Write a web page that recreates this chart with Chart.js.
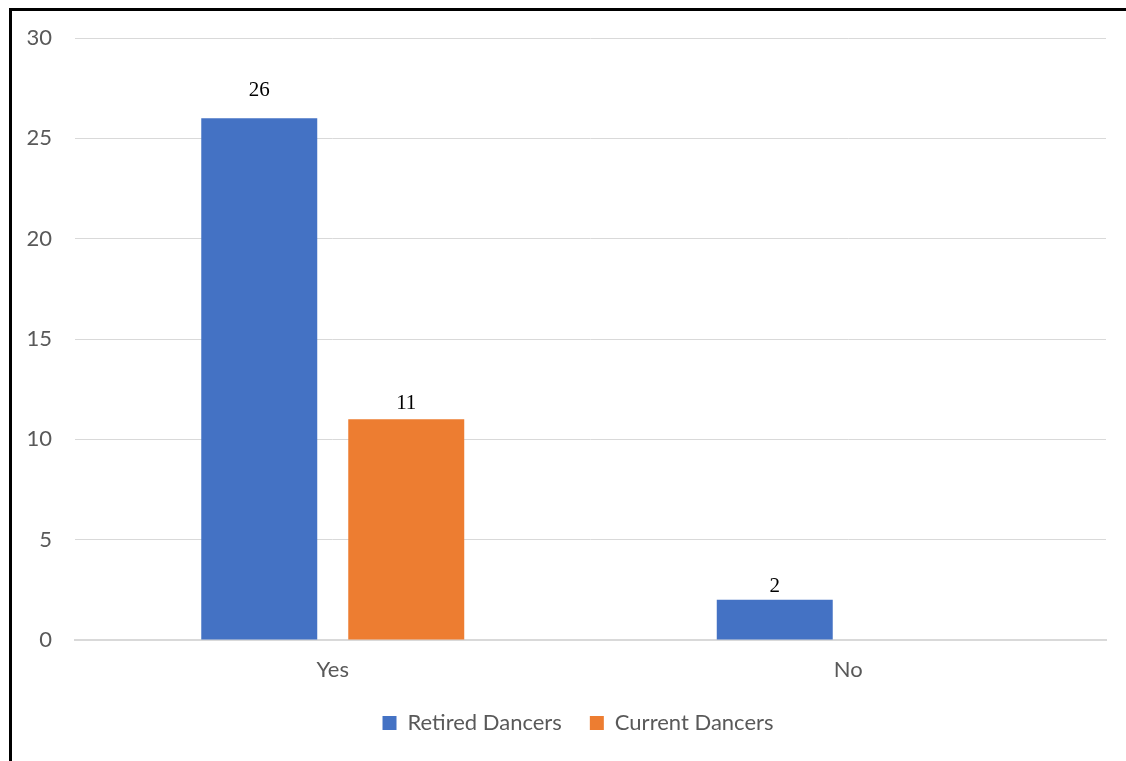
<!DOCTYPE html>
<html>
<head>
<meta charset="utf-8">
<script src="https://cdn.jsdelivr.net/npm/chart.js@4.4.1/dist/chart.umd.min.js"></script>
<style>
  html, body { margin: 0; padding: 0; background: #fff; }
  #wrap { position: relative; width: 1126px; height: 761px; overflow: hidden; }
  #frame {
    position: absolute; left: 9px; top: 8px; width: 1200px; height: 800px;
    border-left: 3px solid #000; border-top: 3px solid #000; box-sizing: border-box;
    pointer-events: none;
  }
  canvas { position: absolute; left: 0; top: 0; }
</style>
</head>
<body>
<div id="wrap">
  <canvas id="chart" width="1126" height="761"></canvas>
  <div id="frame"></div>
</div>
<script>
// chart data
const categories = ["Yes", "No"];
const retiredDancers = [26, 2];
const currentDancers = [11, null];
const yTicks = [0, 5, 10, 15, 20, 25, 30];

const labelFont = "Lato, 'Open Sans', sans-serif";

// draws the value above each bar, Excel style
const valueLabels = {
  id: "valueLabels",
  afterDatasetsDraw(chart, args, opts) {
    const ctx = chart.ctx;
    ctx.save();
    ctx.font = "21px 'Liberation Serif', 'Times New Roman', serif";
    ctx.fillStyle = "#000";
    ctx.textAlign = "center";
    ctx.textBaseline = "middle";
    chart.data.datasets.forEach((ds, di) => {
      const meta = chart.getDatasetMeta(di);
      meta.data.forEach((bar, i) => {
        const v = ds.data[i];
        if (v === null || v === undefined) return;
        const off = opts.offsets[di][i];
        ctx.fillText(String(v), bar.x, bar.y - off);
      });
    });
    ctx.restore();
  }
};

// Excel centers the legend a bit more to the right
const legendShift = {
  id: "legendShift",
  afterLayout(chart, args, opts) {
    if (chart.legend) chart.legend.left += opts.dx;
  }
};

const chart = new Chart(document.getElementById("chart"), {
  type: "bar",
  data: {
    labels: categories,
    datasets: [
      {
        label: "Retired Dancers",
        data: retiredDancers,
        backgroundColor: "#4472C4",
        categoryPercentage: 0.5703,
        barPercentage: 0.789
      },
      {
        label: "Current Dancers",
        data: currentDancers,
        backgroundColor: "#ED7D31",
        categoryPercentage: 0.5703,
        barPercentage: 0.789
      }
    ]
  },
  options: {
    responsive: false,
    animation: false,
    layout: { padding: { left: 0, right: 20, top: 38, bottom: 17 } },
    scales: {
      x: {
        grid: { display: false, drawTicks: false },
        border: { display: true, color: "#d9d9d9", width: 2 },
        ticks: { color: "#595959", font: { family: labelFont, size: 22 }, padding: 17 },
        afterFit(scale) { scale.height = 44; }
      },
      y: {
        min: 0,
        max: 30,
        afterBuildTicks(scale) { scale.ticks = yTicks.map(v => ({ value: v })); },
        grid: { color: "#d9d9d9", lineWidth: 1, drawTicks: false },
        border: { display: false },
        ticks: { color: "#595959", font: { family: labelFont, size: 22 }, padding: 23 },
        afterFit(scale) { scale.width = 75; }
      }
    },
    plugins: {
      legend: {
        position: "bottom",
        labels: {
          color: "#595959",
          font: { family: labelFont, size: 22 },
          boxWidth: 14,
          boxHeight: 14,
          padding: 28
        }
      },
      tooltip: { enabled: false },
      valueLabels: { offsets: [[28, 13], [16, 0]] },
      legendShift: { dx: 50 }
    }
  },
  plugins: [valueLabels, legendShift]
});
</script>
</body>
</html>
